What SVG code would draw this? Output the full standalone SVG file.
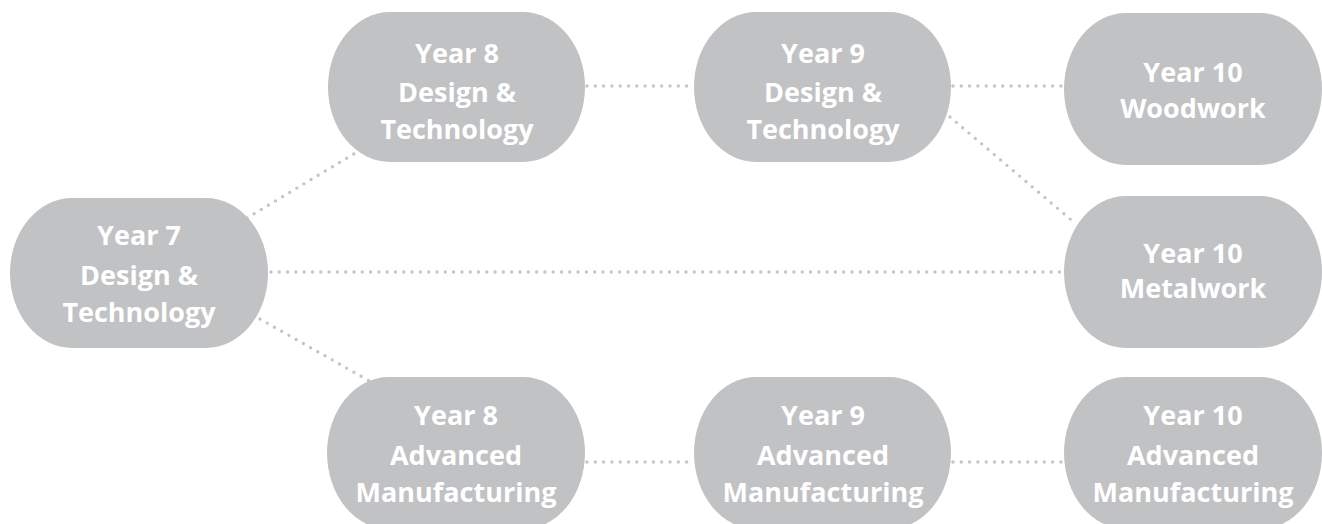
<svg xmlns="http://www.w3.org/2000/svg" width="1322" height="524" viewBox="0 0 1322 524">
<style>
.n{fill:#c1c2c4}
.t{font-family:"Open Sans","Noto Sans","Liberation Sans",sans-serif;font-weight:bold;font-size:27px;fill:#ffffff;text-anchor:middle}
.c{stroke:#c4c5c7;stroke-width:3.4;stroke-linecap:round;stroke-dasharray:0 8.3;fill:none}
</style>
<rect width="1322" height="524" fill="#ffffff"/>
<g id="connectors">
<line class="c" x1="247" y1="218" x2="362" y2="149"/>
<line class="c" x1="271" y1="272" x2="1062" y2="272"/>
<line class="c" x1="260" y1="319" x2="373" y2="383"/>
<line class="c" x1="587" y1="86" x2="690" y2="86"/>
<line class="c" x1="953" y1="86" x2="1062" y2="86"/>
<line class="c" x1="950" y1="117" x2="1076" y2="224"/>
<line class="c" x1="587" y1="462" x2="690" y2="462"/>
<line class="c" x1="953" y1="462" x2="1062" y2="462"/>
</g>
<g id="y7">
<rect class="n" x="10" y="198" width="258" height="150" rx="62" ry="75"/>
<text class="t" x="139" y="245">Year 7</text>
<text class="t" x="139" y="285">Design &amp;</text>
<text class="t" x="139" y="322">Technology</text>
</g>
<g id="y8dt">
<rect class="n" x="328" y="12" width="257" height="150" rx="62" ry="75"/>
<text class="t" x="457" y="63">Year 8</text>
<text class="t" x="457" y="102">Design &amp;</text>
<text class="t" x="457" y="139">Technology</text>
</g>
<g id="y9dt">
<rect class="n" x="694" y="12" width="257" height="150" rx="62" ry="75"/>
<text class="t" x="823" y="63">Year 9</text>
<text class="t" x="823" y="102">Design &amp;</text>
<text class="t" x="823" y="139">Technology</text>
</g>
<g id="y10w">
<rect class="n" x="1064" y="13" width="258" height="152" rx="62" ry="76"/>
<text class="t" x="1193" y="82">Year 10</text>
<text class="t" x="1193" y="118">Woodwork</text>
</g>
<g id="y10m">
<rect class="n" x="1064" y="196" width="258" height="152" rx="62" ry="76"/>
<text class="t" x="1193" y="263">Year 10</text>
<text class="t" x="1193" y="298">Metalwork</text>
</g>
<g id="y8am">
<rect class="n" x="327" y="377" width="258" height="152" rx="62" ry="76"/>
<text class="t" x="456" y="425">Year 8</text>
<text class="t" x="456" y="465">Advanced</text>
<text class="t" x="456" y="502">Manufacturing</text>
</g>
<g id="y9am">
<rect class="n" x="694" y="377" width="257" height="152" rx="62" ry="76"/>
<text class="t" x="823" y="425">Year 9</text>
<text class="t" x="823" y="465">Advanced</text>
<text class="t" x="823" y="502">Manufacturing</text>
</g>
<g id="y10am">
<rect class="n" x="1064" y="377" width="258" height="152" rx="62" ry="76"/>
<text class="t" x="1193" y="425">Year 10</text>
<text class="t" x="1193" y="465">Advanced</text>
<text class="t" x="1193" y="502">Manufacturing</text>
</g>
</svg>
